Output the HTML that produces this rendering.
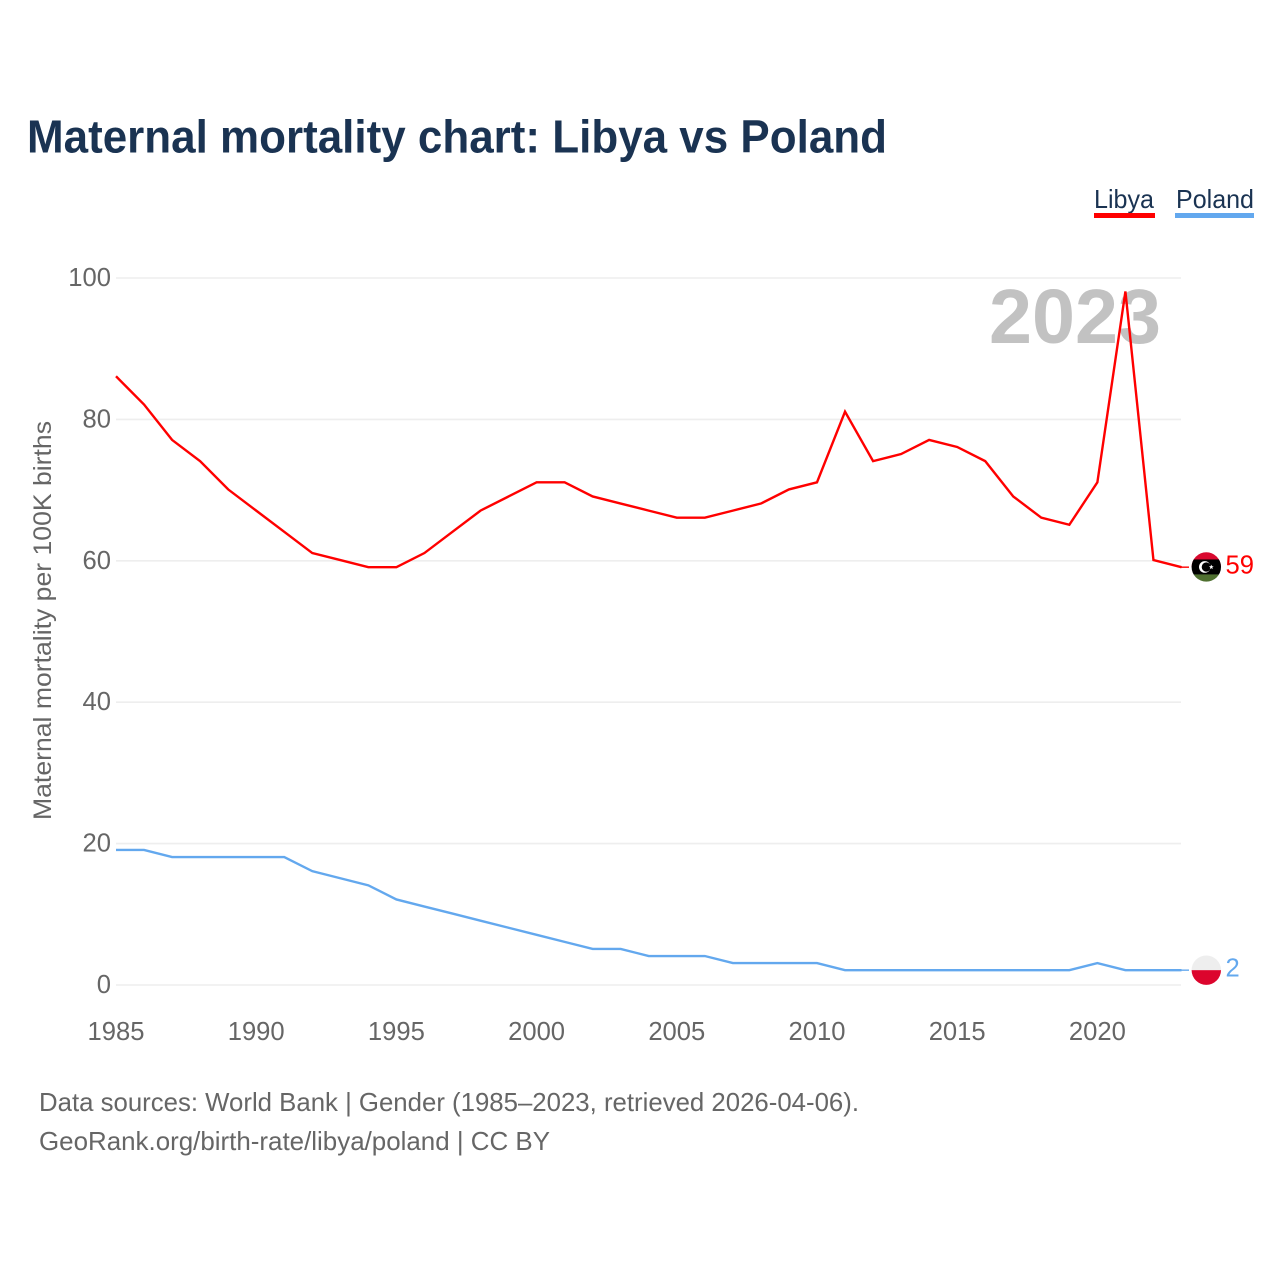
<!DOCTYPE html>
<html lang="en">
<head>
<meta charset="utf-8">
<title>Maternal mortality chart: Libya vs Poland</title>
<style>
html,body{margin:0;padding:0;background:#fff;}
svg{display:block;font-family:"Liberation Sans",sans-serif;}
</style>
</head>
<body>
<svg id="chart" xmlns="http://www.w3.org/2000/svg" width="1280" height="1280" viewBox="0 0 1280 1280">
  <defs>
    <clipPath id="flag-clip-libya"><circle id="clip-libya" r="14.7"></circle></clipPath>
    <clipPath id="flag-clip-poland"><circle id="clip-poland" r="14.7"></circle></clipPath>
  </defs>
  <text x="27" y="152.5" font-size="46" font-weight="700" fill="#1a3352" textLength="860" lengthAdjust="spacingAndGlyphs">Maternal mortality chart: Libya vs Poland</text>

  <g>
    <g>
      <text x="1094" y="208" font-size="26" fill="#1a3352" textLength="60" lengthAdjust="spacingAndGlyphs">Libya</text>
      <rect x="1094" y="213" width="61" height="5" fill="#ff0000"></rect>
    </g>
    <g>
      <text x="1176" y="208" font-size="26" fill="#1a3352" textLength="78" lengthAdjust="spacingAndGlyphs">Poland</text>
      <rect x="1175" y="213" width="79" height="5" fill="#63a8ee"></rect>
    </g>
  </g>

  <g id="grid"></g>
  <g id="y-ticks"></g>
  <g id="x-ticks"></g>

  <text transform="translate(51,820) rotate(-90)" font-size="25" fill="#666666" textLength="399" lengthAdjust="spacingAndGlyphs">Maternal mortality per 100K births</text>

  <text x="989" y="343" font-size="77" font-weight="700" fill="#c2c2c2" textLength="172" lengthAdjust="spacingAndGlyphs">2023</text>

  <g id="series" transform="translate(0,-0.7)"></g>

  <g id="flag-libya">
    <g clip-path="url(#flag-clip-libya)">
      <rect x="-16" y="-16" width="32" height="16" fill="#d9092f"></rect>
      <rect x="-16" y="-7.5" width="32" height="15" fill="#000000"></rect>
      <rect x="-16" y="7.5" width="32" height="9" fill="#4f7030"></rect>
    </g>
    <circle cx="-1.5" cy="0" r="5.8" fill="#ffffff"></circle>
    <circle cx="0" cy="0" r="4.6" fill="#000000"></circle>
    <polygon points="5,-2.4 5.7,-0.7 7.4,-0.7 6,0.4 6.5,2.2 5,1.1 3.5,2.2 4,0.4 2.6,-0.7 4.3,-0.7" fill="#ffffff"></polygon>
  </g>
  <g id="flag-poland">
    <g clip-path="url(#flag-clip-poland)">
      <rect x="-16" y="-16" width="32" height="16" fill="#eeeeee"></rect>
      <rect x="-16" y="0" width="32" height="16" fill="#dc052d"></rect>
    </g>
  </g>

  <text id="value-libya" x="1225.5" font-size="25.6" fill="#ff0000"></text>
  <text id="value-poland" x="1225.5" font-size="25.6" fill="#63a8ee"></text>

  <text x="39" y="1111" font-size="26" fill="#666666" textLength="820" lengthAdjust="spacingAndGlyphs">Data sources: World Bank | Gender (1985–2023, retrieved 2026-04-06).</text>
  <text x="39" y="1150" font-size="26" fill="#666666" textLength="511" lengthAdjust="spacingAndGlyphs">GeoRank.org/birth-rate/libya/poland | CC BY</text>
</svg>
<script>
const years = [1985,1986,1987,1988,1989,1990,1991,1992,1993,1994,1995,1996,1997,1998,1999,2000,2001,2002,2003,2004,2005,2006,2007,2008,2009,2010,2011,2012,2013,2014,2015,2016,2017,2018,2019,2020,2021,2022,2023];
const libyaValues = [86,82,77,74,70,67,64,61,60,59,59,61,64,67,69,71,71,69,68,67,66,66,67,68,70,71,81,74,75,77,76,74,69,66,65,71,98,60,59];
const polandValues = [19,19,18,18,18,18,18,16,15,14,12,11,10,9,8,7,6,5,5,4,4,4,3,3,3,3,2,2,2,2,2,2,2,2,2,3,2,2,2];
const yTickLabels = [0,20,40,60,80,100];
const xTickLabels = [1985,1990,1995,2000,2005,2010,2015,2020];

const SVG_NS = 'http://www.w3.org/2000/svg';
function xScale(year) { return 116 + (year - 1985) * (1181.5 - 116) / 38; }
function yScale(value) { return 985 - value * 7.07; }

const gridLayer = document.getElementById('grid');
const yLayer = document.getElementById('y-ticks');
const xLayer = document.getElementById('x-ticks');
const seriesLayer = document.getElementById('series');

yTickLabels.forEach(function (tick) {
  const line = document.createElementNS(SVG_NS, 'line');
  line.setAttribute('x1', 116);
  line.setAttribute('x2', 1181);
  line.setAttribute('y1', yScale(tick));
  line.setAttribute('y2', yScale(tick));
  line.setAttribute('stroke', '#eeeeee');
  line.setAttribute('stroke-width', '1.6');
  
  
  gridLayer.appendChild(line);

  const label = document.createElementNS(SVG_NS, 'text');
  label.setAttribute('x', 111);
  label.setAttribute('y', yScale(tick) + 8);
  label.setAttribute('text-anchor', 'end');
  label.setAttribute('font-size', '25.6');
  label.setAttribute('fill', '#666666');
  
  
  label.textContent = tick;
  yLayer.appendChild(label);
});

xTickLabels.forEach(function (tick) {
  const label = document.createElementNS(SVG_NS, 'text');
  label.setAttribute('x', xScale(tick));
  label.setAttribute('y', 1040);
  label.setAttribute('text-anchor', 'middle');
  label.setAttribute('font-size', '25.6');
  label.setAttribute('fill', '#666666');
  
  
  label.textContent = tick;
  xLayer.appendChild(label);
});

function pointsFor(values) {
  return values.map(function (v, i) { return xScale(years[i]).toFixed(2) + ',' + yScale(v).toFixed(2); }).join(' ');
}

const libyaLine = document.createElementNS(SVG_NS, 'polyline');
libyaLine.setAttribute('points', pointsFor(libyaValues));
libyaLine.setAttribute('fill', 'none');
libyaLine.setAttribute('stroke', '#ff0000');
libyaLine.setAttribute('stroke-width', '2.4');


seriesLayer.appendChild(libyaLine);

const polandLine = document.createElementNS(SVG_NS, 'polyline');
polandLine.setAttribute('points', pointsFor(polandValues));
polandLine.setAttribute('fill', 'none');
polandLine.setAttribute('stroke', '#63a8ee');
polandLine.setAttribute('stroke-width', '2.4');


seriesLayer.appendChild(polandLine);

const libyaLast = libyaValues[libyaValues.length - 1];
const polandLast = polandValues[polandValues.length - 1];

const libyaLeader = document.createElementNS(SVG_NS, 'line');
libyaLeader.setAttribute('x1', 1181);
libyaLeader.setAttribute('x2', 1189);
libyaLeader.setAttribute('y1', yScale(libyaLast));
libyaLeader.setAttribute('y2', yScale(libyaLast));
libyaLeader.setAttribute('stroke', '#ff0000');
libyaLeader.setAttribute('stroke-width', '1.4');


seriesLayer.appendChild(libyaLeader);

const polandLeader = document.createElementNS(SVG_NS, 'line');
polandLeader.setAttribute('x1', 1181);
polandLeader.setAttribute('x2', 1189);
polandLeader.setAttribute('y1', yScale(polandLast));
polandLeader.setAttribute('y2', yScale(polandLast));
polandLeader.setAttribute('stroke', '#63a8ee');
polandLeader.setAttribute('stroke-width', '1.4');


seriesLayer.appendChild(polandLeader);

document.getElementById('flag-libya').setAttribute('transform', 'translate(1206.3,' + (yScale(libyaLast) - 0.9) + ')');
document.getElementById('flag-poland').setAttribute('transform', 'translate(1206.3,' + (yScale(polandLast) - 0.7) + ')');

const valueLibya = document.getElementById('value-libya');
valueLibya.setAttribute('y', yScale(libyaLast) + 5.5);
valueLibya.textContent = libyaLast;

const valuePoland = document.getElementById('value-poland');
valuePoland.setAttribute('y', yScale(polandLast) + 5.5);
valuePoland.textContent = polandLast;
</script>
</body>
</html>
